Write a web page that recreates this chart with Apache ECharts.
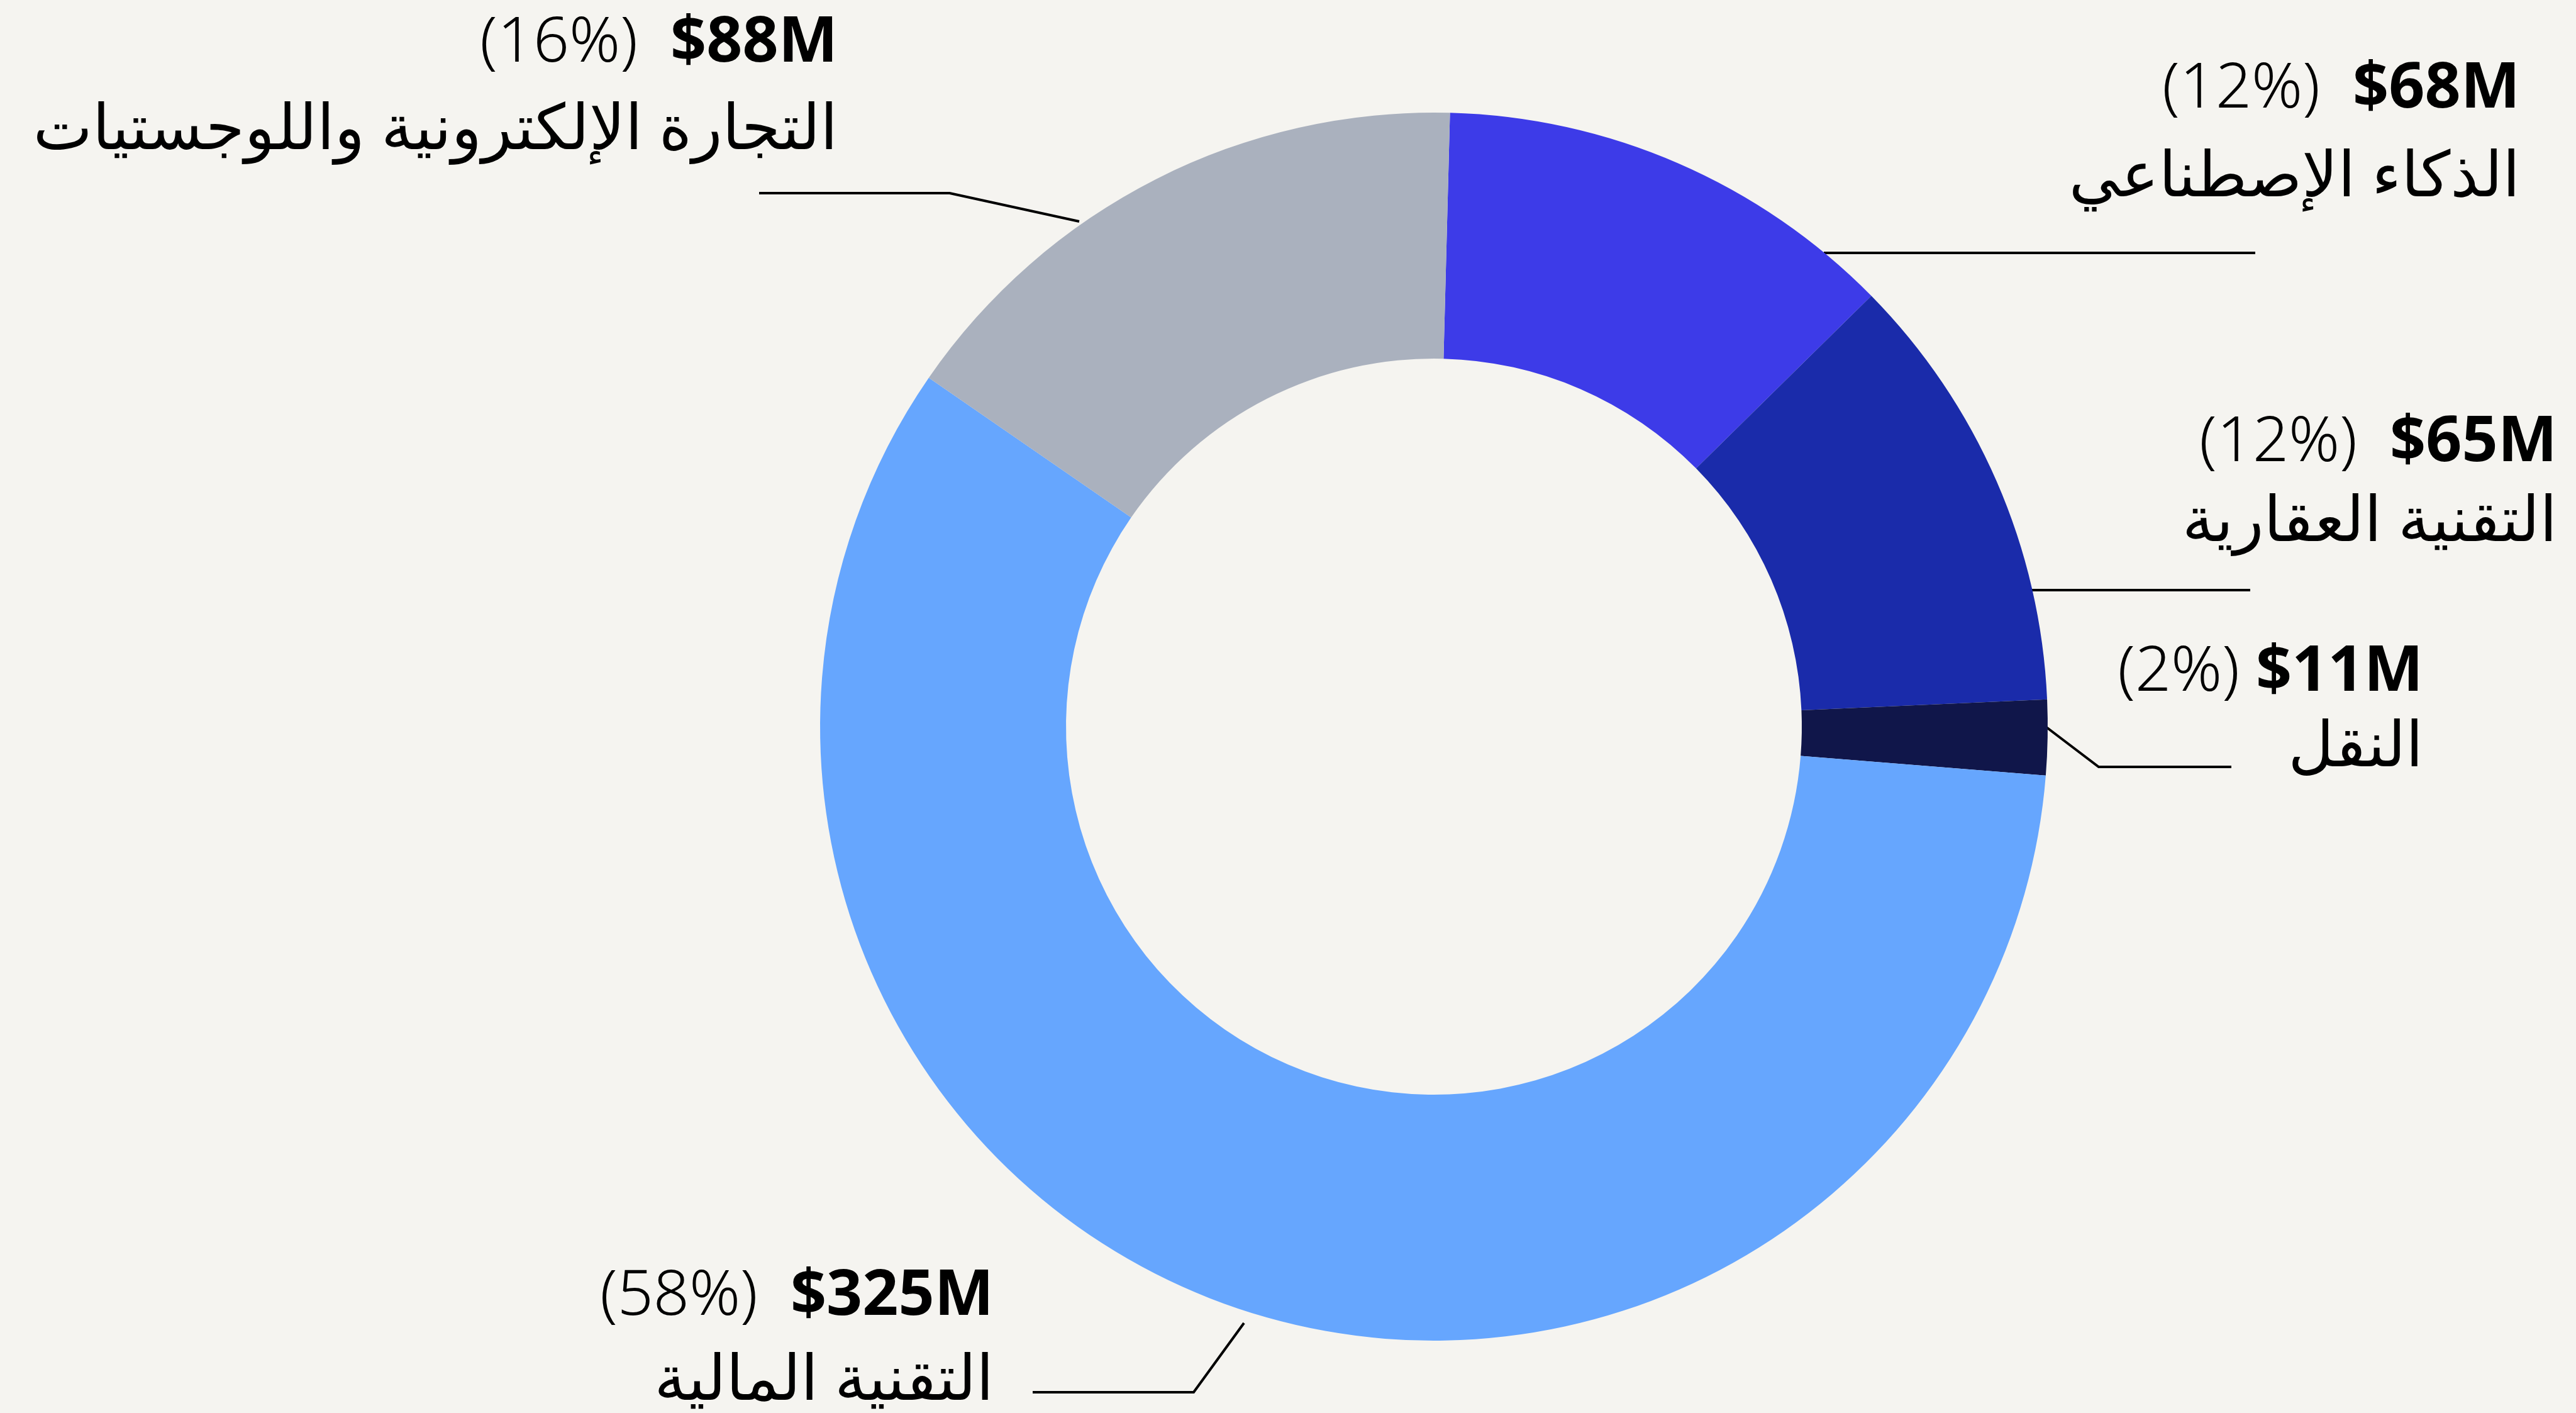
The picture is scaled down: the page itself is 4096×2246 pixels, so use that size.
<!DOCTYPE html>
<html>
<head>
<meta charset="utf-8">
<script src="https://cdn.jsdelivr.net/npm/echarts@6/dist/echarts.min.js"></script>
<style>
  html, body { margin: 0; padding: 0; background: #f5f4f0; }
  #main { width: 4096px; height: 2246px; }
</style>
</head>
<body>
<div id="main"></div>
<script>
// data, clockwise from the top
var names = ['الذكاء الإصطناعي', 'التقنية العقارية', 'النقل', 'التقنية المالية', 'التجارة الإلكترونية واللوجستيات'];
var values = [68, 65, 11, 325, 88];
var colors = ['#3d3be8', '#1a2baa', '#10164a', '#66a6fe', '#aab1be'];

// hand placed labels and leader lines (px)
var labelPos = [
  {x: 4007, y: 72, lh: 141, gap: '  ', line: [[2900, 402], [3200, 402], [3586, 402]]},
  {x: 4066, y: 641, lh: 127, gap: '  ', line: [[3231, 938], [3400, 938], [3578, 938]]},
  {x: 3853, y: 1010, lh: 120, gap: ' ', line: [[3254, 1156], [3337, 1219], [3548, 1219]]},
  {x: 1580, y: 1994, lh: 135, gap: '  ', line: [[1978, 2103], [1898, 2213], [1642, 2213]]},
  {x: 1332, y: 0, lh: 139, gap: '  ', line: [[1716, 352], [1510, 307], [1207, 307]]}
];

var FONT = '"Noto Sans", "DejaVu Sans", sans-serif';

function richFor(lh) {
  return {
    p: {fontFamily: FONT, fontSize: 100, fontWeight: 300, color: '#000', lineHeight: lh},
    v: {fontFamily: FONT, fontSize: 100, fontWeight: 'bold', color: '#000', lineHeight: lh},
    n: {fontFamily: FONT, fontSize: 100, fontWeight: 'normal', color: '#000', lineHeight: lh}
  };
}

var myChart = echarts.init(document.getElementById('main'));
var option = {
  backgroundColor: '#f5f4f0',
  animation: false,
  series: [{
    type: 'pie',
    center: [2280, 1155],
    radius: [585, 976],
    startAngle: 88.5,
    clockwise: true,
    avoidLabelOverlap: false,
    emphasis: {disabled: true},
    label: {
      show: true,
      position: 'outside',
      fontFamily: FONT,
      fontSize: 100,
      color: '#000',
      formatter: function (p) {
        var g = labelPos[p.dataIndex].gap;
        return '{p|(' + Math.round(p.percent) + '%)' + g + '}{v|$' + p.value + 'M}\n{n|' + p.name + '}';
      }
    },
    labelLine: {
      show: true,
      length: 40,
      length2: 40,
      lineStyle: {color: '#000', width: 4}
    },
    labelLayout: function (p) {
      var l = labelPos[p.dataIndex];
      return {
        x: l.x,
        y: l.y,
        align: 'right',
        verticalAlign: 'top',
        labelLinePoints: l.line
      };
    },
    data: names.map(function (n, i) {
      return {
        name: n,
        value: values[i],
        itemStyle: {color: colors[i]},
        label: {rich: richFor(labelPos[i].lh)}
      };
    })
  }]
};
myChart.setOption(option);
</script>
</body>
</html>
